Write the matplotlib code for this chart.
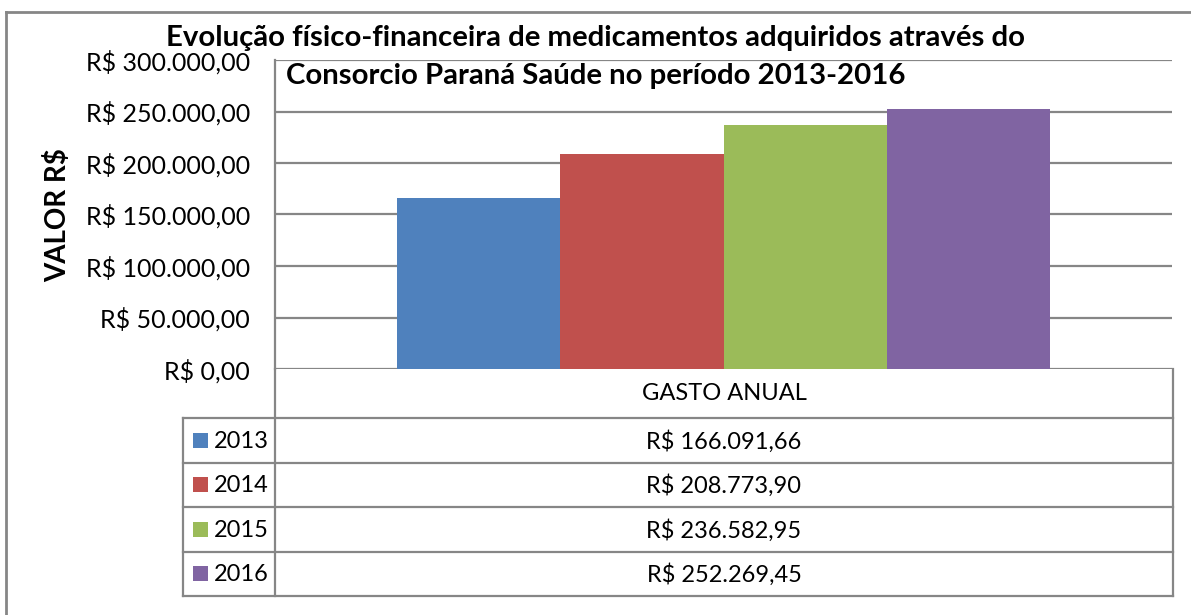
import matplotlib
matplotlib.use('Agg')
import matplotlib.pyplot as plt
from matplotlib.ticker import FuncFormatter, MultipleLocator
from matplotlib.patches import Rectangle

# dados
anos = ['2013', '2014', '2015', '2016']
gastos = [166091.66, 208773.90, 236582.95, 252269.45]
cores = ['#4F81BD', '#C0504D', '#9BBB59', '#8064A2']
categoria = 'GASTO ANUAL'
titulo = ['Evolução físico-financeira de medicamentos adquiridos através do',
          'Consorcio Paraná Saúde no período 2013-2016']
rotulo_y = 'VALOR R$'

plt.rcParams['font.family'] = ['Lato', 'DejaVu Sans']
cinza = '#868686'

W, H = 1191, 615

def reais(v, pos=None):
    s = '{:,.2f}'.format(v).replace(',', 'X').replace('.', ',').replace('X', '.')
    return 'R$ ' + s

def fx(px):
    return px / W

def fy(py):
    return 1 - py / H

fig = plt.figure(figsize=(W / 100, H / 100), dpi=100)

# camada de fundo em pixels (moldura e tabela)
bg = fig.add_axes([0, 0, 1, 1])
bg.set_xlim(0, W)
bg.set_ylim(H, 0)
bg.axis('off')

lw = 1.6
bg.plot([6, 6], [12, H + 5], color=cinza, lw=2)
bg.plot([6, W + 5], [12, 12], color=cinza, lw=2)

x_leg, x_col, x_dir = 183, 275, 1173
y_eixo, y_cab = 369, 418
alt_linha = 44.5
linhas_y = [y_cab + i * alt_linha for i in range(len(anos) + 1)]

# grade da tabela
bg.plot([x_col, x_col], [y_eixo, linhas_y[-1]], color=cinza, lw=lw)
bg.plot([x_dir, x_dir], [y_eixo, linhas_y[-1]], color=cinza, lw=lw)
bg.plot([x_leg, x_leg], [y_cab, linhas_y[-1]], color=cinza, lw=lw)
for y in linhas_y:
    bg.plot([x_leg, x_dir], [y, y], color=cinza, lw=lw)

bg.text((x_col + x_dir) / 2, (y_eixo + y_cab) / 2, categoria, ha='center', va='center', fontsize=17)
for i, (ano, g, c) in enumerate(zip(anos, gastos, cores)):
    yc = (linhas_y[i] + linhas_y[i + 1]) / 2
    bg.add_patch(Rectangle((193, yc - 7.5), 15, 15, color=c, lw=0))
    bg.text(214, yc + 1, ano, ha='left', va='center', fontsize=17)
    bg.text((x_col + x_dir) / 2, yc + 1, reais(g), ha='center', va='center', fontsize=17)

# titulo (duas linhas) e rotulo do eixo
bg.text(596, 46, titulo[0], ha='center', va='baseline', fontsize=21.2, fontweight='bold')
bg.text(596, 84, titulo[1], ha='center', va='baseline', fontsize=21.2, fontweight='bold')
bg.text(58, 215, rotulo_y, ha='center', va='center', rotation=90, fontsize=20, fontweight='bold')

# barras
ax = fig.add_axes([fx(275), fy(369), fx(1172 - 275), (369 - 60) / H])
ax.set_facecolor('none')
n = len(anos)
larg = 1 / (n + 1.5)
for i, (ano, g, c) in enumerate(zip(anos, gastos, cores)):
    ax.bar(-larg * n / 2 + larg * (i + 0.5), g, width=larg, color=c, zorder=2)
ax.set_xlim(-0.5, 0.5)
ax.set_ylim(0, 300000)
ax.yaxis.set_major_locator(MultipleLocator(50000))
ax.yaxis.set_major_formatter(FuncFormatter(reais))
ax.grid(axis='y', color=cinza, lw=lw, zorder=0)
ax.set_axisbelow(True)
ax.set_xticks([])
for s in ['top', 'right', 'bottom']:
    ax.spines[s].set_visible(False)
ax.spines['left'].set_color(cinza)
ax.spines['left'].set_linewidth(lw)
ax.tick_params(axis='y', length=0, labelsize=18, pad=18)

fig.savefig('out.png', dpi=100)
